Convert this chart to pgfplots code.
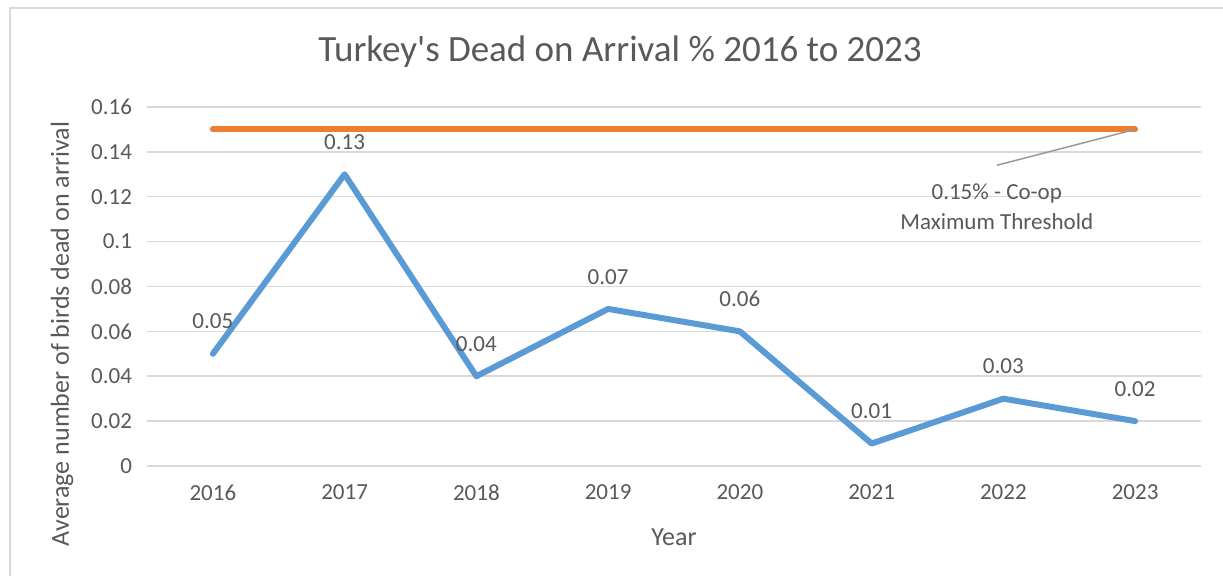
\documentclass[border=0pt]{standalone}
\usepackage{pgfplots}
\pgfplotsset{compat=1.18}
\usepackage{fontspec}
\setmainfont{Carlito}
\definecolor{txt}{HTML}{595959}
\definecolor{gridc}{HTML}{D9D9D9}
\definecolor{blueline}{HTML}{5B9BD5}
\definecolor{orangeline}{HTML}{ED7D31}
\begin{document}
\begin{tikzpicture}
\useasboundingbox (0,0) rectangle (611.5pt,288pt);
\fill[white] (0,0) rectangle (611.5pt,288pt);
\draw[gridc, line width=0.75pt] (5pt,0) -- (5pt,284pt) -- (611.5pt,284pt);
\node[txt, font=\fontsize{18.5}{22}\selectfont] at (310pt,262pt) {Turkey\textquotesingle s Dead on Arrival \% 2016 to 2023};
\node[txt, font=\fontsize{13}{15}\selectfont, rotate=90] at (31pt,121pt) {Average number of birds dead on arrival};
\node[txt, font=\fontsize{13}{15}\selectfont] at (337pt,19.5pt) {Year};
\begin{axis}[
  at={(73.5pt,55pt)}, anchor=south west,
  scale only axis, width=527pt, height=179.5pt,
  xmin=-0.5, xmax=7.5, ymin=0, ymax=0.16,
  xtick={0,...,7}, xticklabels={2016,2017,2018,2019,2020,2021,2022,2023},
  ytick={0,0.02,...,0.16},
  yticklabels={0,0.02,0.04,0.06,0.08,0.1,0.12,0.14,0.16},
  ymajorgrids, xmajorgrids=false,
  major grid style={draw=gridc, line width=0.75pt},
  axis line style={draw=none},
  major tick length=0pt,
  tick label style={txt, font=\fontsize{11.5}{13}\selectfont},
  xticklabel style={yshift=-6pt},
  yticklabel style={xshift=-4pt},
  clip=false,
]
\addplot[orangeline, line width=3pt, line cap=round] coordinates {(0,0.15) (7,0.15)};
\addplot[blueline, line width=3pt, line cap=round, line join=round,
  nodes near coords, point meta=explicit symbolic,
  every node near coord/.style={txt, font=\fontsize{11.5}{13}\selectfont, anchor=south, yshift=7.5pt}]
  table[meta=lab] {
x y lab
0 0.05 0.05
1 0.13 0.13
2 0.04 0.04
3 0.07 0.07
4 0.06 0.06
5 0.01 0.01
6 0.03 0.03
7 0.02 0.02
};
\draw[gray!80, line width=0.75pt] (axis cs:7,0.15) -- (axis cs:5.95,0.134);
\node[txt, font=\fontsize{11.5}{13}\selectfont] at (axis cs:5.95,0.1215) {0.15\% - Co-op};
\node[txt, font=\fontsize{11.5}{13}\selectfont] at (axis cs:5.95,0.109) {Maximum Threshold};
\end{axis}
\end{tikzpicture}
\end{document}
